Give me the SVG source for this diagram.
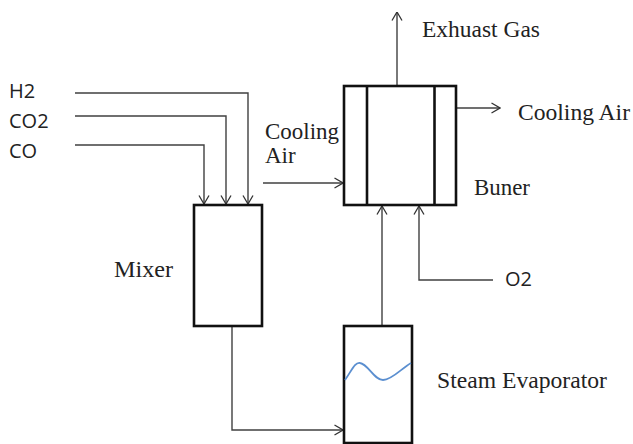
<svg xmlns="http://www.w3.org/2000/svg" width="633" height="444" viewBox="0 0 633 444">
<defs>
<marker id="arr" viewBox="0 0 10 12" refX="9.5" refY="6" markerWidth="10" markerHeight="12" markerUnits="userSpaceOnUse" orient="auto">
<path d="M1,1 L9.5,6 L1,11" fill="none" stroke="#333" stroke-width="1.3"/>
</marker>
</defs>
<style>
.box{fill:#fff;stroke:#111;stroke-width:2.6}
.div{stroke:#111;stroke-width:2.6}
.conn{fill:none;stroke:#404040;stroke-width:1.4}
.arrow{marker-end:url(#arr)}
.sans{font-family:"Open Sans","Liberation Sans",sans-serif;font-size:20px;fill:#222}
.serif{font-family:"Liberation Serif","Times New Roman",serif;font-size:23px;fill:#222}
</style>
<rect width="633" height="444" fill="#fff"/>
<g id="connectors">
<path class="conn arrow" d="M75,93 H248 V204"/>
<path class="conn arrow" d="M75,116 H226 V204"/>
<path class="conn arrow" d="M75,145 H204 V204"/>
<path class="conn arrow" d="M397,86 V12"/>
<path class="conn arrow" d="M456,108 H500"/>
<path class="conn arrow" d="M263,183 H343"/>
<path class="conn arrow" d="M382,326 V206"/>
<path class="conn arrow" d="M493,280 H419 V206"/>
<path class="conn arrow" d="M232,326 V430 H343"/>
</g>
<g id="feeds">
<text class="sans" x="9" y="98">H2</text>
<text class="sans" x="9" y="128">CO2</text>
<text class="sans" x="9" y="158">CO</text>
</g>
<g id="mixer">
<rect class="box" x="194" y="205" width="68" height="121"/>
<text class="serif" x="114" y="277" textLength="59" lengthAdjust="spacingAndGlyphs">Mixer</text>
</g>
<g id="burner">
<rect class="box" x="344" y="86" width="112" height="119"/>
<line class="div" x1="367" y1="86" x2="367" y2="205"/>
<line class="div" x1="434.5" y1="86" x2="434.5" y2="205"/>
<text class="serif" x="474" y="195" textLength="56" lengthAdjust="spacingAndGlyphs">Buner</text>
</g>
<g id="exhaust">
<text class="serif" x="422" y="37" textLength="118" lengthAdjust="spacingAndGlyphs">Exhuast Gas</text>
</g>
<g id="cooling-air-out">
<text class="serif" x="518" y="120" textLength="112" lengthAdjust="spacingAndGlyphs">Cooling Air</text>
</g>
<g id="cooling-air-in">
<text class="serif" x="265" y="139" textLength="74" lengthAdjust="spacingAndGlyphs">Cooling</text>
<text class="serif" x="265" y="163">Air</text>
</g>
<g id="o2">
<text class="sans" x="505" y="286">O2</text>
</g>
<g id="steam-evaporator">
<rect class="box" x="344" y="326" width="68" height="117"/>
<path d="M345,380 C352,370 355,362 360,363 C368,364 374,380 383,380 C392,380 402,368 411,363" fill="none" stroke="#5b8fd0" stroke-width="1.8"/>
<text class="serif" x="437" y="388" textLength="170" lengthAdjust="spacingAndGlyphs">Steam Evaporator</text>
</g>
</svg>
